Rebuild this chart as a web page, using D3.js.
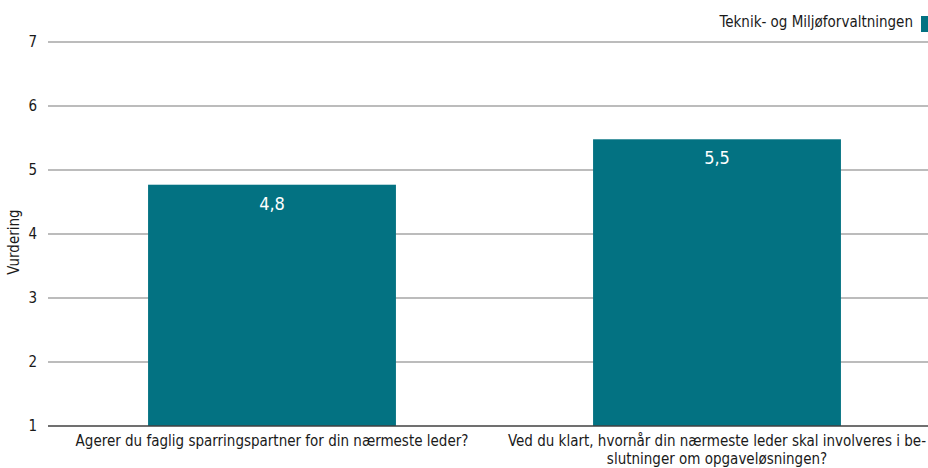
<!DOCTYPE html>
<html>
<head>
<meta charset="utf-8">
<script src="https://cdn.jsdelivr.net/npm/d3@7"></script>
<style>
  body { margin: 0; background: #fff; }
  svg text { font-family: "DejaVu Sans Condensed", "DejaVu Sans", sans-serif; fill: #1a1a1a; }
</style>
</head>
<body>
<div id="chart"></div>
<script>
// data
var categories = [
    ["Agerer du faglig sparringspartner for din nærmeste leder?"],
    ["Ved du klart, hvornår din nærmeste leder skal involveres i be-", "slutninger om opgaveløsningen?"]
];
var values = [4.77, 5.48];
var valueLabels = ["4,8", "5,5"];
var seriesName = "Teknik- og Miljøforvaltningen";
var yTicks = [1, 2, 3, 4, 5, 6, 7];

(function (d3) {
    "use strict";

    var width = 928, height = 468;
    var barColor = "#037282";

    var svg = d3.select("#chart").append("svg")
        .attr("width", width)
        .attr("height", height);

    // scales
    var xScale = d3.scaleBand()
        .domain(d3.range(values.length))
        .range([49.5, 939.5])
        .paddingInner(0.443)
        .paddingOuter(0.2215);

    var yScale = d3.scaleLinear().domain([1, 7]).range([426, 42]);

    // grid
    svg.append("g").selectAll("line")
        .data(yTicks.slice(1))
        .enter().append("line")
        .attr("x1", 48).attr("x2", width)
        .attr("y1", function (d) { return yScale(d); })
        .attr("y2", function (d) { return yScale(d); })
        .attr("stroke", "#a6a6a6")
        .attr("stroke-width", 1.3);

    // y axis labels
    var yAxis = d3.axisLeft(yScale).tickValues(yTicks).tickFormat(d3.format("d"))
        .tickSize(0).tickPadding(11);
    var yg = svg.append("g").attr("transform", "translate(48,0)").call(yAxis);
    yg.select(".domain").remove();
    yg.selectAll("text").attr("font-size", 15).attr("font-family", null).attr("fill", "#1a1a1a");

    // bars
    svg.append("g").selectAll("rect")
        .data(values)
        .enter().append("rect")
        .attr("x", function (d, i) { return xScale(i); })
        .attr("width", xScale.bandwidth())
        .attr("y", function (d) { return yScale(d); })
        .attr("height", function (d) { return yScale(1) - yScale(d); })
        .attr("fill", barColor);

    // value labels
    svg.append("g").selectAll("text")
        .data(values)
        .enter().append("text")
        .attr("x", function (d, i) { return xScale(i) + xScale.bandwidth() / 2; })
        .attr("y", function (d) { return yScale(d) + 25; })
        .attr("text-anchor", "middle")
        .attr("font-size", 18)
        .style("fill", "#fff")
        .text(function (d, i) { return valueLabels[i]; });

    // baseline
    svg.append("line")
        .attr("x1", 48).attr("x2", width)
        .attr("y1", yScale(1)).attr("y2", yScale(1))
        .attr("stroke", "#404040")
        .attr("stroke-width", 1.3);

    // category labels
    var cat = svg.append("g").selectAll("text")
        .data(categories)
        .enter().append("text")
        .attr("x", function (d, i) { return xScale(i) + xScale.bandwidth() / 2; })
        .attr("y", 446)
        .attr("text-anchor", "middle")
        .attr("font-size", 15);
    cat.selectAll("tspan")
        .data(function (d) { return d; })
        .enter().append("tspan")
        .attr("x", function () { return d3.select(this.parentNode).attr("x"); })
        .attr("dy", function (d, j) { return j === 0 ? 0 : 17.5; })
        .text(function (d) { return d; });

    // y title
    svg.append("text")
        .attr("transform", "translate(19,242)rotate(-90)")
        .attr("text-anchor", "middle")
        .attr("font-size", 15)
        .text("Vurdering");

    // legend
    svg.append("rect")
        .attr("x", 921).attr("y", 16)
        .attr("width", 15).attr("height", 16)
        .attr("fill", barColor);
    svg.append("text")
        .attr("x", 913).attr("y", 27)
        .attr("text-anchor", "end")
        .attr("font-size", 15)
        .text(seriesName);

})(d3);
</script>
</body>
</html>
